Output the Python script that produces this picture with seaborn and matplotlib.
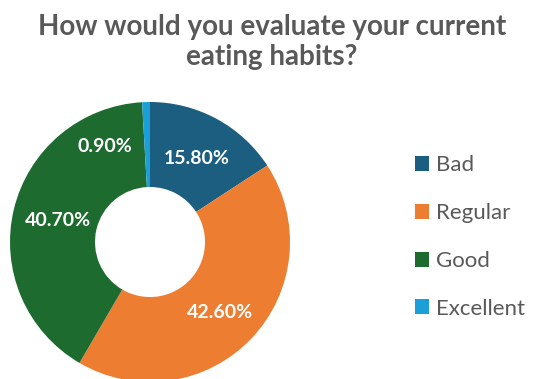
import matplotlib
matplotlib.use("Agg")
import matplotlib.pyplot as plt
import seaborn as sns
from matplotlib.patches import Patch

categories = ["Bad", "Regular", "Good", "Excellent"]
values = [15.8, 42.6, 40.7, 0.9]
labels = ["15.80%", "42.60%", "40.70%", "0.90%"]
colors = ["#1B5E7F", "#ED7D31", "#1E6B30", "#1A9FD9"]
# label anchor positions inside the ring (pie radius = 1)
label_pos = [(0.335, 0.60), (0.50, -0.50), (-0.66, 0.15), (-0.32, 0.68)]

sns.set_theme(style="white")
plt.rcParams['font.family'] = ['Lato', 'DejaVu Sans']

W, H = 534, 379
fig = plt.figure(figsize=(W / 100, H / 100), dpi=100)
fig.patch.set_facecolor("white")
cx, cy, R = 150, 242, 140
ax = fig.add_axes([(cx - R) / W, (H - cy - R) / H, 2 * R / W, 2 * R / H])

wedges, _ = ax.pie(values, colors=colors, startangle=90, counterclock=False,
                   radius=1.0, wedgeprops=dict(width=0.607, edgecolor="none"))
ax.set_xlim(-1, 1)
ax.set_ylim(-1, 1)
ax.set_aspect("equal")
ax.axis("off")

for lab, (x, y) in zip(labels, label_pos):
    ax.text(x, y, lab, ha="center", va="center", color="white",
            fontsize=14, fontweight="bold", clip_on=False)

fig.text(272 / W, 1 - 42 / H, "How would you evaluate your current\neating habits?",
         ha="center", va="center", fontsize=20, fontweight="bold",
         color="#595959", linespacing=1.2)

handles = [Patch(facecolor=c, edgecolor="none") for c in colors]
leg = fig.legend(handles, categories, loc="center left",
                 bbox_to_anchor=(395 / W, 1 - 237 / H), frameon=False,
                 fontsize=16, labelspacing=1.25, handlelength=0.65,
                 handleheight=0.65, handletextpad=0.3)
for t in leg.get_texts():
    t.set_color("#595959")

fig.savefig("out.png", dpi=100, facecolor="white")
